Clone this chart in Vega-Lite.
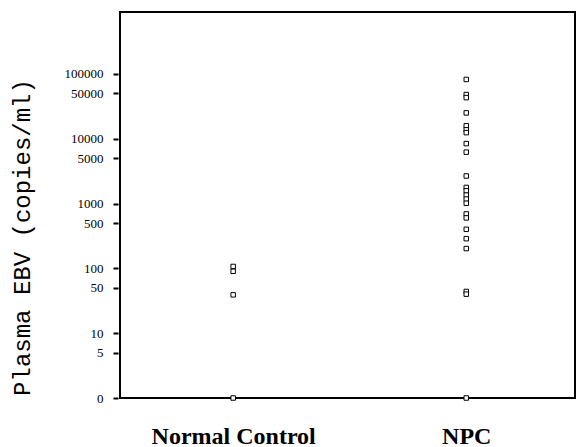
{
  "$schema": "https://vega.github.io/schema/vega-lite/v6.json",
  "width": 455,
  "height": 386,
  "autosize": {"type": "none"},
  "padding": {"left": 120, "top": 12, "right": 10, "bottom": 49},
  "background": "white",
  "config": {
    "view": {"stroke": "black", "strokeWidth": 2},
    "axis": {"grid": false}
  },
  "data": {
    "values": [
      {"group": "Normal Control", "ebv": 107},
      {"group": "Normal Control", "ebv": 90},
      {"group": "Normal Control", "ebv": 39},
      {"group": "Normal Control", "ebv": 0},
      {"group": "NPC", "ebv": 82000},
      {"group": "NPC", "ebv": 48000},
      {"group": "NPC", "ebv": 43000},
      {"group": "NPC", "ebv": 25000},
      {"group": "NPC", "ebv": 15800},
      {"group": "NPC", "ebv": 13700},
      {"group": "NPC", "ebv": 12400},
      {"group": "NPC", "ebv": 8400},
      {"group": "NPC", "ebv": 6200},
      {"group": "NPC", "ebv": 2660},
      {"group": "NPC", "ebv": 1770},
      {"group": "NPC", "ebv": 1570},
      {"group": "NPC", "ebv": 1350},
      {"group": "NPC", "ebv": 1170},
      {"group": "NPC", "ebv": 1010},
      {"group": "NPC", "ebv": 690},
      {"group": "NPC", "ebv": 600},
      {"group": "NPC", "ebv": 400},
      {"group": "NPC", "ebv": 287},
      {"group": "NPC", "ebv": 202},
      {"group": "NPC", "ebv": 44},
      {"group": "NPC", "ebv": 40},
      {"group": "NPC", "ebv": 0}
    ]
  },
  "mark": {
    "type": "point",
    "shape": "square",
    "filled": false,
    "fill": "white",
    "fillOpacity": 1,
    "stroke": "black",
    "strokeWidth": 1,
    "opacity": 1,
    "size": 20,
    "invalid": "show"
  },
  "encoding": {
    "x": {
      "field": "group",
      "type": "nominal",
      "sort": ["Normal Control", "NPC"],
      "scale": {"type": "point", "padding": 0.476, "align": 0.51},
      "axis": {
        "title": null,
        "orient": "bottom",
        "domain": false,
        "ticks": false,
        "labelAngle": 0,
        "labelFont": "Liberation Serif",
        "labelFontWeight": "bold",
        "labelFontSize": 24,
        "labelColor": "black",
        "labelPadding": 26
      }
    },
    "y": {
      "field": "ebv",
      "type": "quantitative",
      "scale": {"type": "log", "domain": [1, 900000], "clamp": true, "nice": false},
      "axis": {
        "title": "Plasma EBV (copies/ml)",
        "titleFont": "Liberation Mono",
        "titleFontSize": 24,
        "titleFontWeight": "normal",
        "titleColor": "black",
        "titleX": -84,
        "titleY": 225,
        "titleAngle": -90,
        "titleAlign": "center",
        "titleBaseline": "bottom",
        "values": [1, 5, 10, 50, 100, 500, 1000, 5000, 10000, 50000, 100000],
        "labelExpr": "datum.value == 1 ? '0' : format(datum.value, 'd')",
        "labelFont": "Liberation Serif",
        "labelFontSize": 13,
        "labelColor": "black",
        "labelPadding": 10,
        "offset": 2,
        "domain": false,
        "tickSize": 5,
        "tickWidth": 2,
        "tickColor": "black"
      }
    }
  }
}
